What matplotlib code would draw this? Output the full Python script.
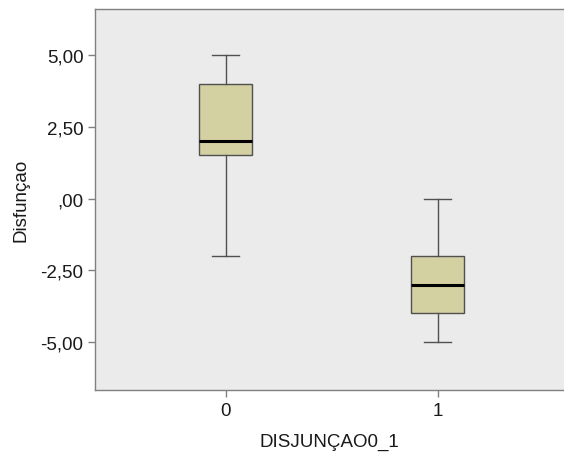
import matplotlib
matplotlib.use("Agg")
import matplotlib.pyplot as plt
from matplotlib.ticker import FuncFormatter

# values
groups = ["0", "1"]
whisker_low = [-2.0, -5.0]
q1 = [1.5, -4.0]
median = [2.0, -3.0]
q3 = [4.0, -2.0]
whisker_high = [5.0, 0.0]
yticks = [-5.0, -2.5, 0.0, 2.5, 5.0]

plt.rcParams['font.family'] = ['Liberation Sans', 'DejaVu Sans']

fig = plt.figure(figsize=(5.64, 4.56), dpi=100)
ax = fig.add_axes([0.169, 0.1425, 0.831, 0.8355])
ax.set_facecolor('#EBEBEB')

stats = []
for i, g in enumerate(groups):
    stats.append({'label': g, 'whislo': whisker_low[i], 'q1': q1[i],
                  'med': median[i], 'q3': q3[i], 'whishi': whisker_high[i],
                  'fliers': []})

ax.bxp(stats, positions=range(len(groups)), widths=0.25, patch_artist=True,
       showfliers=False,
       boxprops=dict(facecolor='#D3D0A2', edgecolor='#505050', linewidth=1.0),
       medianprops=dict(color='black', linewidth=2.2),
       whiskerprops=dict(color='#505050', linewidth=1.0),
       capprops=dict(color='#505050', linewidth=1.0),
       capwidths=0.125)

ax.set_xlim(-0.615, 1.596)
ax.set_ylim(-6.67, 6.6)
ax.set_yticks(yticks)


def fmt(v, pos):
    s = "%.2f" % v
    if s.startswith("0."):
        s = s[1:]
    return s.replace(".", ",")


ax.yaxis.set_major_formatter(FuncFormatter(fmt))
ax.set_xticks(range(len(groups)))
ax.set_xticklabels(groups)

for side in ['left', 'bottom', 'top']:
    ax.spines[side].set_color('#808080')
    ax.spines[side].set_linewidth(1.0)
ax.spines['right'].set_visible(False)
ax.tick_params(colors='#808080', labelcolor='#1a1a1a', labelsize=13.5,
               length=5, width=1.0, direction='out')

ax.set_xlabel("DISJUNÇAO0_1", fontsize=13.5, color='#1a1a1a', labelpad=10)
ax.set_ylabel("Disfunçao", fontsize=13.5, color='#1a1a1a', labelpad=8)

fig.savefig("out.png", dpi=100)
